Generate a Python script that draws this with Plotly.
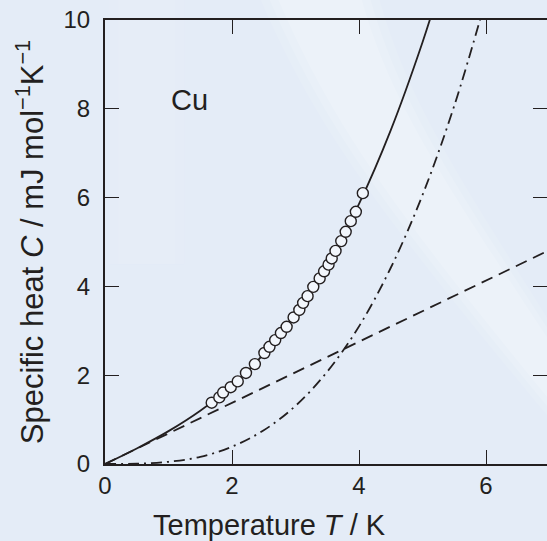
import plotly.graph_objects as go

# ---- data ----
meas_T = [1.68, 1.80, 1.86, 1.98, 2.09, 2.22, 2.36, 2.51, 2.59, 2.68, 2.77, 2.86,
          2.97, 3.06, 3.12, 3.19, 3.28, 3.38, 3.45, 3.52, 3.57, 3.63, 3.72, 3.79,
          3.87, 3.95, 4.06]
meas_C = [1.38, 1.50, 1.61, 1.73, 1.86, 2.05, 2.25, 2.50, 2.64, 2.79, 2.95, 3.09,
          3.30, 3.47, 3.63, 3.78, 3.99, 4.18, 4.34, 4.49, 4.63, 4.80, 5.02, 5.23,
          5.47, 5.68, 6.10]

total_T = [0, 0.5, 1.0, 1.5, 2.0, 2.5, 3.0, 3.5, 4.0, 4.5, 5.0, 5.25]
total_C = [0, 0.35, 0.74, 1.20, 1.76, 2.48, 3.37, 4.49, 5.86, 7.52, 9.50, 10.63]

lattice_T = [0, 0.5, 1.0, 1.5, 2.0, 2.5, 3.0, 3.5, 4.0, 4.5, 5.0, 5.5, 6.0]
lattice_C = [0, 0.006, 0.05, 0.16, 0.39, 0.76, 1.31, 2.08, 3.10, 4.42, 6.06, 8.07, 10.48]

electron_T = [0, 7.0]
electron_C = [0, 4.82]

x_ticks = [0, 2, 4, 6]
y_ticks = [0, 2, 4, 6, 8, 10]

x_title = "Temperature <i>T</i> / K"
y_title = "Specific heat <i>C</i> / mJ mol<sup>−1</sup>K<sup>−1</sup>"
label = "Cu"

INK = "#231f20"
FONT = "Liberation Sans, Arial, sans-serif"

fig = go.Figure()

fig.add_trace(go.Scatter(x=electron_T, y=electron_C, mode="lines",
                         line=dict(color=INK, width=1.8, dash="12px,7px"),
                         hoverinfo="skip", showlegend=False))
fig.add_trace(go.Scatter(x=lattice_T, y=lattice_C, mode="lines", line_shape="spline",
                         line=dict(color=INK, width=1.8, dash="11px,5px,2px,5px"),
                         hoverinfo="skip", showlegend=False))
fig.add_trace(go.Scatter(x=total_T, y=total_C, mode="lines", line_shape="spline",
                         line=dict(color=INK, width=1.8),
                         hoverinfo="skip", showlegend=False))
fig.add_trace(go.Scatter(x=meas_T, y=meas_C, mode="markers",
                         marker=dict(symbol="circle", size=11, color="#f2f6fc",
                                     line=dict(color=INK, width=1.4)),
                         showlegend=False))
# right-hand mirror ticks (no line)
fig.add_trace(go.Scatter(x=[None], y=[None], yaxis="y2", showlegend=False,
                         hoverinfo="skip"))

# soft background swirl (layered faint bands)
for k, a in enumerate([0.10, 0.12, 0.14]):
    w = 0.07 - 0.02 * k
    fig.add_shape(type="path", xref="paper", yref="paper", layer="below",
                  path=(f"M {0.42 - w} 1.05 C {0.55 - w} 0.75, {0.70 - w} 0.55, 1.05 {0.12 - w} "
                        f"L 1.05 {0.12 + w + 0.06} C {0.75 + w} 0.62, {0.62 + w} 0.80, {0.55 + w} 1.05 Z"),
                  fillcolor=f"rgba(255,255,255,{a})", line=dict(width=0))
for k, a in enumerate([0.08, 0.10]):
    w = 0.04 - 0.02 * k
    fig.add_shape(type="rect", xref="paper", yref="paper", layer="below",
                  x0=0.05 - w, x1=0.14 + w, y0=0.45, y1=1.05,
                  fillcolor=f"rgba(248,244,252,{a})", line=dict(width=0))

fig.add_annotation(x=1.0, y=8.2, xref="x", yref="y", text=label, showarrow=False,
                   xanchor="left", yanchor="middle",
                   font=dict(family=FONT, size=29, color=INK))
# x-axis title (centred left of the visible axis, as in the original)
fig.add_annotation(x=0.373, y=-0.138, xref="paper", yref="paper", text=x_title,
                   showarrow=False, xanchor="center", yanchor="middle",
                   font=dict(family=FONT, size=29, color=INK))

fig.update_layout(
    width=547, height=541,
    margin=dict(l=105, r=0, t=20, b=77),
    paper_bgcolor="#e4ecf7", plot_bgcolor="rgba(0,0,0,0)",
    font=dict(family=FONT, color=INK),
    xaxis=dict(range=[0, 6.96], tickvals=x_ticks, ticks="inside", ticklen=14,
               tickwidth=1.3, tickcolor=INK, showline=True, linecolor=INK,
               linewidth=2, mirror="ticks", showgrid=False, zeroline=False,
               tickfont=dict(size=24), ticklabelstandoff=-1),
    yaxis=dict(range=[0, 10], tickvals=y_ticks, ticks="inside", ticklen=14,
               tickwidth=1.3, tickcolor=INK, showline=True, linecolor=INK,
               linewidth=2, showgrid=False, zeroline=False,
               tickfont=dict(size=24), ticklabelstandoff=8,
               title=dict(text=y_title, font=dict(size=31), standoff=11)),
    yaxis2=dict(range=[0, 10], overlaying="y", side="right",
                tickvals=[2, 4, 6, 8], ticks="inside", ticklen=14, tickwidth=1.3,
                tickcolor=INK, showline=False, showgrid=False, zeroline=False,
                showticklabels=False),
)

fig.write_html("out.html", config={"displayModeBar": False},
               post_script="document.body.style.margin='0';"
                           "document.body.style.overflow='hidden';"
                           "document.body.style.background='#e4ecf7';")
